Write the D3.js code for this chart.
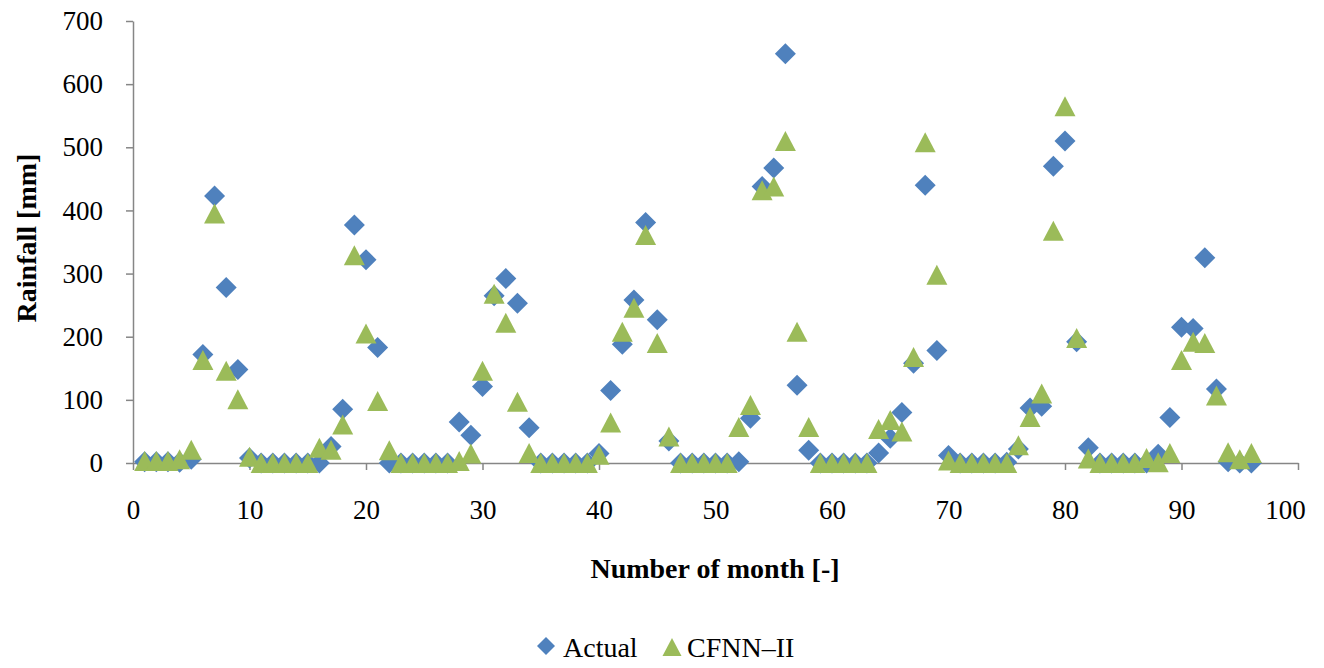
<!DOCTYPE html>
<html>
<head>
<meta charset="utf-8">
<script src="https://cdn.jsdelivr.net/npm/d3@7"></script>
<style>
  html, body { margin: 0; padding: 0; background: #ffffff; }
  svg { display: block; }
</style>
</head>
<body>
<svg id="chart" width="1324" height="668"></svg>
<script>
// Monthly rainfall: observed values and CFNN-II model output (mm)
const months = d3.range(1, 97);

const actual = [
  2, 2, 2, 1, 6, 172, 423, 278, 148, 8,
  0, 0, 0, 0, 0, 0, 26, 85, 377, 322,
  183, 0, 0, 0, 0, 0, 0, 65, 44, 121,
  265, 292, 253, 56, 0, 0, 0, 0, 0, 15,
  115, 188, 258, 381, 227, 35, 0, 0, 0, 0,
  0, 2, 71, 438, 467, 648, 123, 20, 0, 0,
  0, 0, 0, 16, 39, 80, 158, 440, 178, 12,
  0, 0, 0, 0, 1, 22, 87, 90, 470, 510,
  192, 24, 0, 0, 0, 0, 0, 14, 72, 215,
  213, 325, 117, 2, 0, 0
];

const cfnn = [
  3, 3, 3, 6, 21, 163, 395, 146, 101, 10,
  0, 0, 0, 0, 0, 24, 21, 61, 329, 205,
  98, 20, 0, 0, 0, 0, 0, 3, 15, 146,
  268, 222, 97, 16, 0, 0, 0, 0, 0, 13,
  64, 208, 246, 361, 190, 42, 0, 0, 0, 0,
  0, 57, 92, 432, 438, 510, 208, 57, 0, 0,
  0, 0, 0, 54, 68, 50, 168, 508, 298, 4,
  0, 0, 0, 0, 0, 28, 73, 110, 368, 565,
  198, 7, 0, 0, 0, 0, 8, 1, 16, 163,
  192, 190, 107, 17, 6, 16
];

const xTicks = [0, 10, 20, 30, 40, 50, 60, 70, 80, 90, 100];
const yTicks = [0, 100, 200, 300, 400, 500, 600, 700];

const seriesNames = ["Actual", "CFNN\u2013II"];
const seriesColors = ["#4f81bd", "#9bbb59"];

const svg = d3.select("#chart");
const font = "'Liberation Serif', 'Times New Roman', serif";
const axisColor = "#868686";

svg.append("rect").attr("width", 1324).attr("height", 668).attr("fill", "#ffffff");

const x = d3.scaleLinear().domain([0, 100]).range([133, 1298]);
const y = d3.scaleLinear().domain([0, 700]).range([463, 21]);

// Axes
const xAxis = svg.append("g")
  .attr("transform", `translate(0,${y(0)})`)
  .call(d3.axisBottom(x).tickValues(xTicks).tickSize(7).tickSizeOuter(0).tickPadding(30));

const yAxis = svg.append("g")
  .attr("transform", `translate(${x(0)},0)`)
  .call(d3.axisLeft(y).tickValues(yTicks).tickSize(7).tickSizeOuter(0).tickPadding(23));

[xAxis, yAxis].forEach(g => {
  g.select(".domain").attr("stroke", axisColor).attr("stroke-width", 1.5);
  g.selectAll(".tick line").attr("stroke", axisColor).attr("stroke-width", 1.5);
  g.selectAll(".tick text")
    .attr("fill", "#000")
    .style("font-family", font)
    .style("font-size", "27px");
});

// keep the last category label inside the chart edge
xAxis.selectAll(".tick text").filter(d => d === 100).attr("dx", -13);

// Marker shapes
const diamond = s => `M0,${-s}L${s},0L0,${s}L${-s},0Z`;
const triangle = (w, h) => `M0,${-h / 2}L${w / 2},${h / 2}L${-w / 2},${h / 2}Z`;

const rows = months.map((m, i) => ({ m, a: actual[i], c: cfnn[i] }));

svg.append("g").selectAll("path")
  .data(rows)
  .join("path")
  .attr("d", diamond(10.5))
  .attr("transform", d => `translate(${x(d.m)},${y(d.a)})`)
  .attr("fill", seriesColors[0]);

svg.append("g").selectAll("path")
  .data(rows)
  .join("path")
  .attr("d", triangle(21, 20))
  .attr("transform", d => `translate(${x(d.m)},${y(d.c)})`)
  .attr("fill", seriesColors[1]);

// Axis titles
svg.append("text")
  .attr("x", 715)
  .attr("y", 578)
  .attr("text-anchor", "middle")
  .style("font-family", font)
  .style("font-size", "28px")
  .style("font-weight", "bold")
  .text("Number of month [-]");

svg.append("text")
  .attr("transform", "translate(36,238) rotate(-90)")
  .attr("text-anchor", "middle")
  .style("font-family", font)
  .style("font-size", "28px")
  .style("font-weight", "bold")
  .text("Rainfall [mm]");

// Legend
const legend = svg.append("g");
legend.append("path")
  .attr("d", diamond(9))
  .attr("transform", "translate(546,646)")
  .attr("fill", seriesColors[0]);
legend.append("text")
  .attr("x", 563).attr("y", 657)
  .style("font-family", font).style("font-size", "28px")
  .text(seriesNames[0]);
legend.append("path")
  .attr("d", triangle(19, 18))
  .attr("transform", "translate(672,647)")
  .attr("fill", seriesColors[1]);
legend.append("text")
  .attr("x", 687).attr("y", 657)
  .style("font-family", font).style("font-size", "28px")
  .text(seriesNames[1]);
</script>
</body>
</html>
